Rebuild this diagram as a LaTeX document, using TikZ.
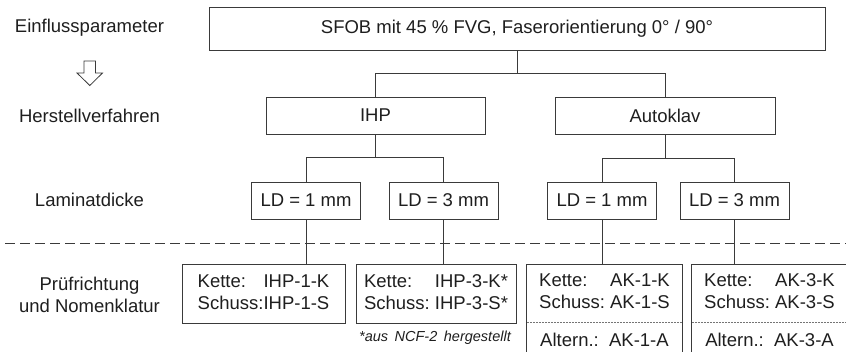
\documentclass[tikz,border=0pt]{standalone}
\usepackage{fontspec}
\setmainfont{Liberation Sans}
\usetikzlibrary{positioning,calc}
\definecolor{linegray}{HTML}{3A3A3A}
\definecolor{txtgray}{HTML}{1E1E1E}
\newcommand{\lbl}{\fontsize{18.5}{22}\selectfont}
\tikzset{stage/.style={draw=linegray,line width=0.9pt,inner sep=0pt,minimum height=37,text=txtgray,font=\lbl},
  sidelabel/.style={align=center,text=txtgray,font=\lbl},
  conn/.style={linegray,line width=0.9pt},
  namebox/.style={inner sep=0pt,minimum height=58,anchor=north,text=txtgray,font=\lbl}}

\begin{document}
\begin{tikzpicture}[x=1pt,y=-1pt]
\clip (0,0) rectangle (846,352);
% linke Spalte
\node[sidelabel] (s1) at (89.5,28) {Einflussparameter};
\node[sidelabel] (s2) at (89.5,116) {Herstellverfahren};
\node[sidelabel] (s3) at (89.5,200) {Laminatdicke};
\node[sidelabel] (s4) at (89.5,295) {Prüfrichtung\\und Nomenklatur};
\draw[linegray,line width=0.8pt,fill=white] (84,61)--(95.5,61)--(95.5,73)--(102.5,73)--(89.8,85.5)--(77,73)--(84,73)--cycle;
% Baum
\node[stage,minimum width=616,minimum height=43] (top) at (517,28.5) {SFOB mit 45 \% FVG, Faserorientierung 0° / 90°};
\node[stage,minimum width=219] (ihp) at (375.5,115.5) {IHP};
\node[stage,minimum width=220] (ak) at (665,115.5) {Autoklav};
\foreach \nm/\xx/\tt in {ihp1/306/1,ihp3/443.5/3,ak1/602/1,ak3/734.5/3}
  \node[stage,minimum width=109] (ld\nm) at (\xx,200.5) {LD = \tt\ mm};
\draw[conn] (top.south) -- ++(0,23) -| (ihp.north);
\draw[conn] (top.south) ++(0,23) -| (ak.north);
\draw[conn] (ihp.south) -- ++(0,23.5) -| (ldihp1.north);
\draw[conn] (ihp.south) ++(0,23.5) -| (ldihp3.north);
\draw[conn] (ak.south) -- ++(0,24.5) -| (ldak1.north);
\draw[conn] (ak.south) ++(0,24.5) -| (ldak3.north);
\draw[linegray,line width=0.9pt,dash pattern=on 10pt off 5pt] (5,243) -- (846,243);
% Nomenklatur
\node[namebox,draw=linegray,line width=0.9pt,minimum width=163,minimum height=59] (nihp1) at (263.5,264)
  {\begin{tabular}{@{}l@{}r@{}}Kette: & IHP-1-K\\ Schuss:&IHP-1-S\end{tabular}};
\node[namebox,draw=linegray,line width=0.9pt,minimum width=160,minimum height=59] (nihp3) at (436,264)
  {\begin{tabular}{@{}l@{}r@{}}Kette: & IHP-3-K*\\ Schuss:&\ IHP-3-S*\end{tabular}};
\node[namebox,minimum width=155] (nak1) at (604.5,264)
  {\begin{tabular}{@{}l@{}r@{}}Kette: & AK-1-K\\ Schuss:&\ AK-1-S\end{tabular}};
\node[namebox,minimum width=155] (nak3) at (769.5,264)
  {\begin{tabular}{@{}l@{}r@{}}Kette: & AK-3-K\\ Schuss:&\ AK-3-S\end{tabular}};
\foreach \nm/\tt in {nak1/AK-1-A,nak3/AK-3-A} {
  \node[namebox,minimum width=155,minimum height=40,below=0pt of \nm] (\nm a)
    {\begin{tabular}{@{}l@{}r@{}}Altern.: & \ \ \tt\end{tabular}};
  \draw[conn] (\nm.north west) rectangle (\nm a.south east);
  \draw[linegray!70,line width=0.6pt,dash pattern=on 2pt off 1pt] (\nm.south west) -- (\nm.south east);}
\foreach \nm in {ihp1,ihp3,ak1,ak3}
  \draw[conn] (ld\nm.south) -- (ld\nm.south |- n\nm.north);
\node[text=txtgray,font=\fontsize{14.5}{17}\selectfont\itshape] (fn) at (435,338) {*aus\hspace{0.45em}NCF-2\hspace{0.45em}hergestellt};
\end{tikzpicture}
\end{document}
